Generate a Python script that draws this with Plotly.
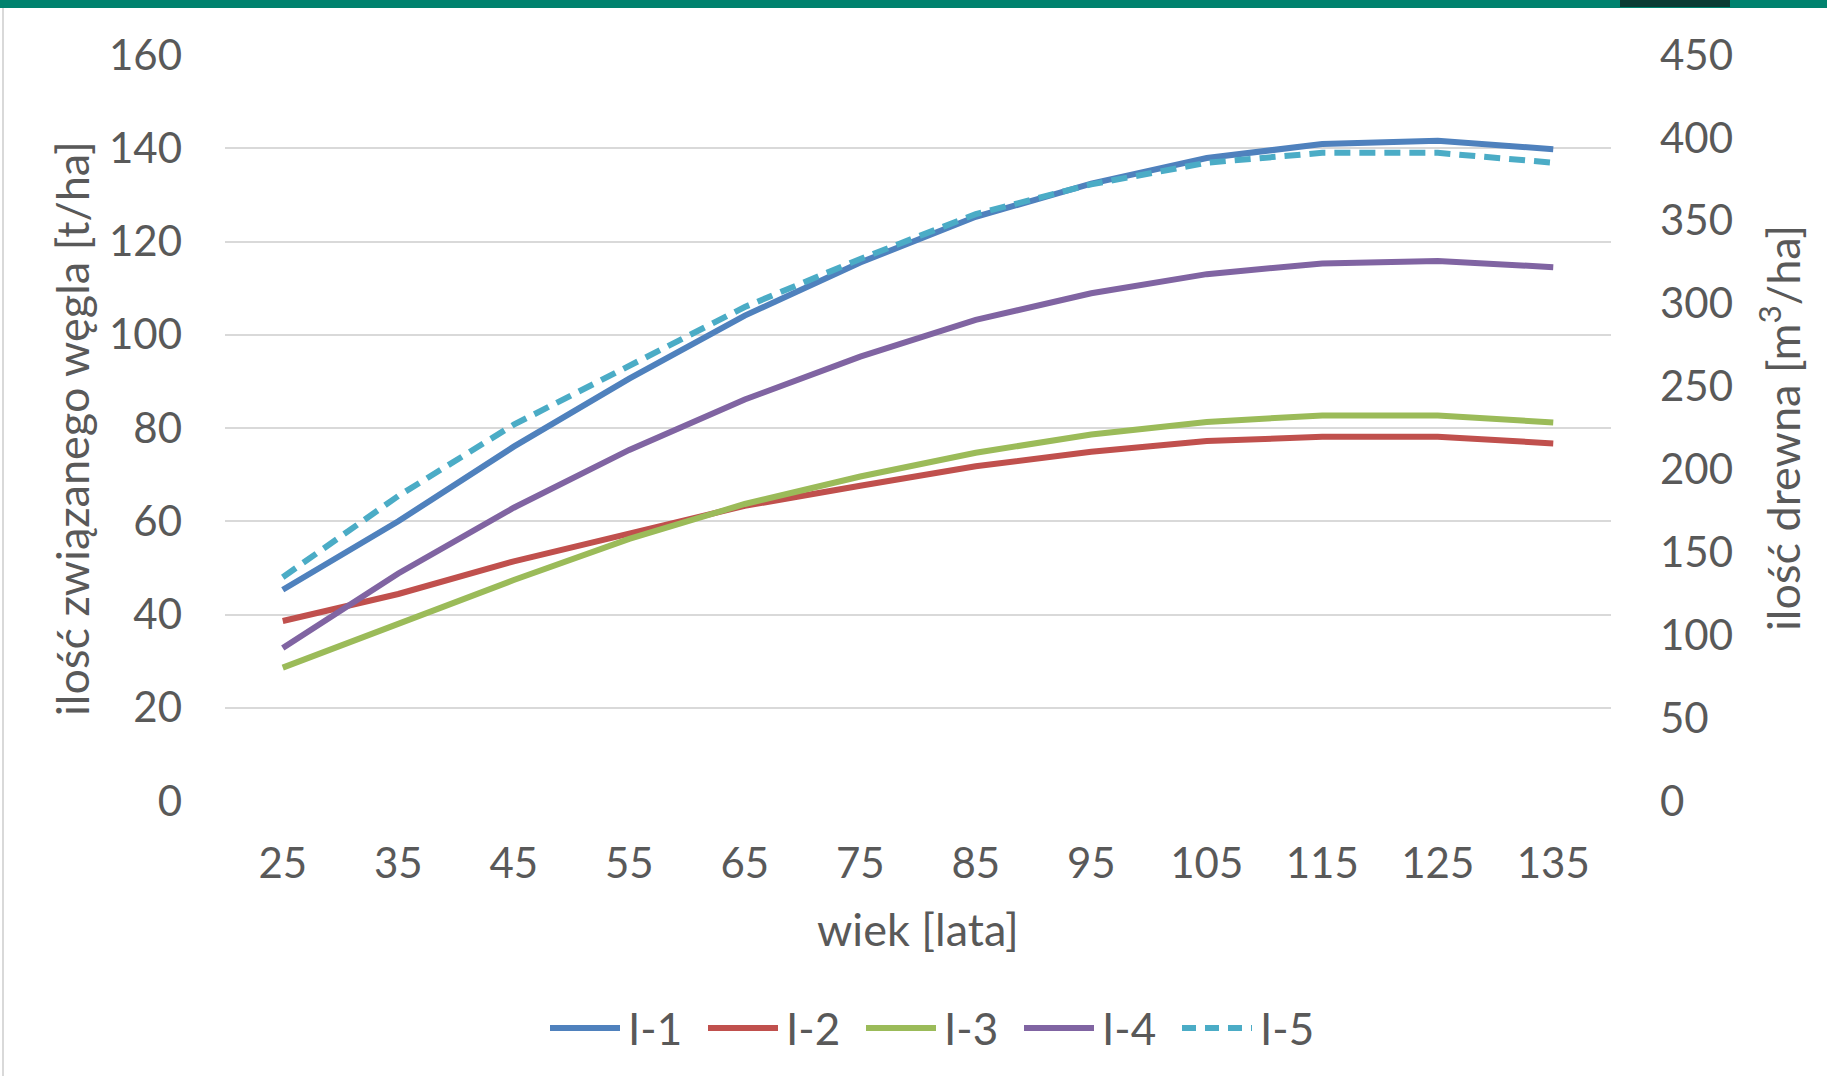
import plotly.graph_objects as go

# Stand age in years
wiek = [25, 35, 45, 55, 65, 75, 85, 95, 105, 115, 125, 135]

# Carbon stock per hectare [t/ha]
s_i1 = [45.3, 60.0, 76.0, 90.6, 104.1, 115.5, 125.3, 132.4, 137.9, 140.9, 141.6, 139.8]
s_i2 = [38.6, 44.4, 51.4, 57.3, 63.3, 67.6, 71.8, 74.9, 77.2, 78.1, 78.1, 76.7]
s_i3 = [28.6, 38.1, 47.4, 56.2, 63.7, 69.6, 74.7, 78.6, 81.3, 82.7, 82.7, 81.2]
s_i4 = [32.8, 48.8, 62.9, 75.3, 86.1, 95.3, 103.2, 108.9, 113.0, 115.3, 115.8, 114.5]
# Wood volume per hectare [m3/ha], plotted on the right axis
s_i5 = [135, 184, 227, 262, 298, 327, 354, 372, 385, 391, 391, 385]

series_names = ["I-1", "I-2", "I-3", "I-4", "I-5"]
colors = ["#4F81BD", "#C0504D", "#9BBB59", "#8064A2", "#4BACC6"]
dashes = ["solid", "solid", "solid", "solid", "16px,9px"]

left_ticks = list(range(0, 161, 20))
right_ticks = list(range(0, 451, 50))

FONT = "Lato, 'Open Sans', sans-serif"
GREY = "#595959"
LINE_W = 6

# plot area in pixels (page is 1827 x 1076)
PL, PR, PT, PB = 225, 1611, 55, 801
PW, PH = PR - PL, PB - PT


def px_x(p):
    return (p - PL) / PW


def px_y(p):
    return (PB - p) / PH


fig = go.Figure()
for name, vals, col, dash in zip(series_names[:4], [s_i1, s_i2, s_i3, s_i4],
                                 colors[:4], dashes[:4]):
    fig.add_trace(go.Scatter(
        x=wiek, y=vals, name=name, mode="lines",
        line=dict(color=col, width=LINE_W, dash=dash),
    ))
fig.add_trace(go.Scatter(
    x=wiek, y=s_i5, name=series_names[4], mode="lines", yaxis="y2",
    line=dict(color=colors[4], width=LINE_W, dash=dashes[4]),
))

shapes = [
    # header band along the top edge
    dict(type="rect", xref="paper", yref="paper", x0=-0.2, x1=1.2,
         y0=px_y(8), y1=px_y(-20), fillcolor="#00826E", line=dict(width=0),
         layer="above"),
    dict(type="rect", xref="paper", yref="paper",
         x0=px_x(1620), x1=px_x(1730), y0=px_y(7), y1=px_y(-20),
         fillcolor="#0B3B34", line=dict(width=0), layer="above"),
    # thin frame on the left edge
    dict(type="line", xref="paper", yref="paper", x0=px_x(3), x1=px_x(3),
         y0=px_y(1100), y1=px_y(8), line=dict(color="#D9D9D9", width=2)),
]

annotations = [
    dict(text="wiek [lata]", xref="paper", yref="paper", x=px_x(918), y=px_y(929),
         xanchor="center", yanchor="middle", showarrow=False,
         font=dict(size=45, color=GREY)),
    dict(text="ilość związanego węgla [t/ha]", xref="paper", yref="paper",
         x=px_x(72), y=px_y(429), xanchor="center", yanchor="middle",
         textangle=-90, showarrow=False, font=dict(size=45, color=GREY)),
    dict(text="ilość drewna [m<sup>3</sup>/ha]", xref="paper", yref="paper",
         x=px_x(1780), y=px_y(428), xanchor="center", yanchor="middle",
         textangle=-90, showarrow=False, font=dict(size=45, color=GREY)),
]

# legend row below the chart
LEG_Y = 1028
leg_x0 = 550
leg_step = 158
for i, (name, col, dash) in enumerate(zip(series_names, colors, dashes)):
    x0 = leg_x0 + i * leg_step
    shapes.append(dict(
        type="line", xref="paper", yref="paper",
        x0=px_x(x0), x1=px_x(x0 + 70), y0=px_y(LEG_Y), y1=px_y(LEG_Y),
        line=dict(color=col, width=LINE_W,
                  dash="14px,9px" if dash != "solid" else "solid"),
    ))
    annotations.append(dict(
        text=name, xref="paper", yref="paper", x=px_x(x0 + 76), y=px_y(LEG_Y),
        xanchor="left", yanchor="middle", showarrow=False,
        font=dict(size=44, color=GREY),
    ))

fig.update_layout(
    width=1827, height=1076,
    margin=dict(l=PL, r=1827 - PR, t=PT, b=1076 - PB),
    paper_bgcolor="white", plot_bgcolor="white",
    font=dict(family=FONT, size=42, color=GREY),
    showlegend=False,
    xaxis=dict(
        range=[20, 140], tickvals=wiek, ticktext=[str(v) for v in wiek],
        showgrid=False, zeroline=False, showline=False, ticks="",
        ticklabelstandoff=34, tickfont=dict(size=42, color=GREY),
        fixedrange=True,
    ),
    yaxis=dict(
        range=[0, 160], tickvals=left_ticks, showgrid=True,
        gridcolor="#D9D9D9", gridwidth=2, zeroline=False, showline=False,
        ticks="", ticklabelstandoff=42, tickfont=dict(size=42, color=GREY),
    ),
    yaxis2=dict(
        range=[0, 450], tickvals=right_ticks, overlaying="y", side="right",
        showgrid=False, zeroline=False, showline=False, ticks="",
        ticklabelstandoff=48, tickfont=dict(size=42, color=GREY),
    ),
    annotations=annotations,
    shapes=shapes,
)

fig.write_html("out.html")
